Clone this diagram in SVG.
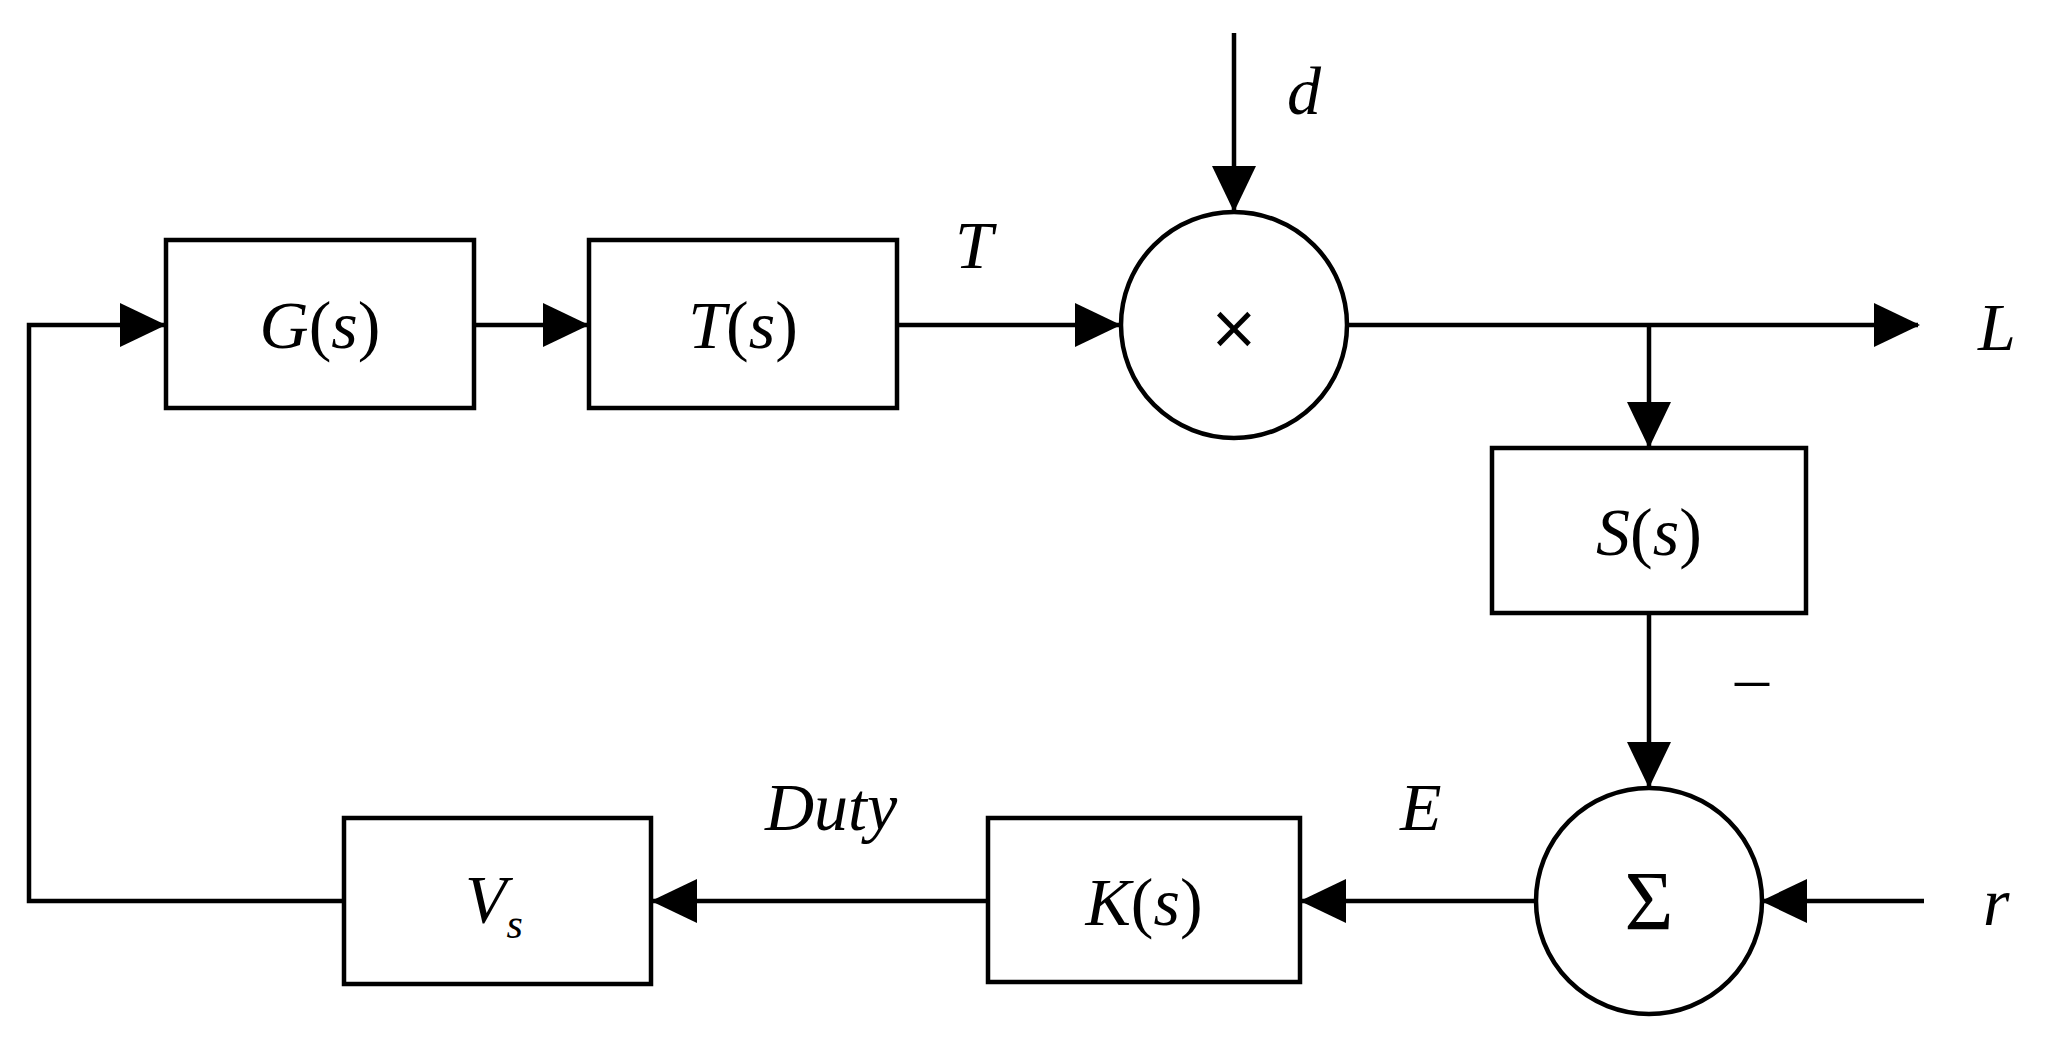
<svg xmlns="http://www.w3.org/2000/svg" width="2052" height="1042" viewBox="0 0 2052 1042">
<style>
.b{fill:#fff;stroke:#000;stroke-width:4.5}
.l{fill:none;stroke:#000;stroke-width:4.5}
text{font-family:"Liberation Serif",serif;font-style:italic;font-size:68px;fill:#000}
.c{text-anchor:middle}
.u{font-style:normal}
</style>
<defs>
<marker id="a" markerUnits="userSpaceOnUse" markerWidth="46" markerHeight="46" viewBox="0 0 46 46" refX="44" refY="23" orient="auto">
<path d="M0,1 L46,23 L0,45 Z" fill="#000"/>
</marker>
</defs>
<rect width="2052" height="1042" fill="#fff"/>
<g id="connectors">
<path class="l" d="M1234,33 V210" marker-end="url(#a)"/>
<path class="l" d="M474,325 H587" marker-end="url(#a)"/>
<path class="l" d="M897,325 H1119" marker-end="url(#a)"/>
<path class="l" d="M1347,325 H1918" marker-end="url(#a)"/>
<path class="l" d="M1649,325 V446" marker-end="url(#a)"/>
<path class="l" d="M1649,613 V786" marker-end="url(#a)"/>
<path class="l" d="M1924,901 H1763" marker-end="url(#a)"/>
<path class="l" d="M1536,901 H1302" marker-end="url(#a)"/>
<path class="l" d="M988,901 H653" marker-end="url(#a)"/>
<path class="l" d="M344,901 H29 V325 H164" marker-end="url(#a)"/>
</g>
<g id="G"><rect class="b" x="166" y="240" width="308" height="168"/><text class="c" x="320" y="348">G<tspan class="u">(</tspan>s<tspan class="u">)</tspan></text></g>
<g id="T"><rect class="b" x="589" y="240" width="308" height="168"/><text class="c" x="743" y="348">T<tspan class="u">(</tspan>s<tspan class="u">)</tspan></text></g>
<g id="mul"><circle class="b" cx="1234" cy="325" r="113"/><text class="c" x="1234" y="348" style="font-style:normal;font-family:'DejaVu Sans',sans-serif;font-size:60px">×</text></g>
<g id="S"><rect class="b" x="1492" y="448" width="314" height="165"/><text class="c" x="1649" y="555">S<tspan class="u">(</tspan>s<tspan class="u">)</tspan></text></g>
<g id="sum"><circle class="b" cx="1649" cy="901" r="113"/><text class="c" x="1649" y="930" style="font-style:normal;font-size:84px">Σ</text></g>
<g id="K"><rect class="b" x="988" y="818" width="312" height="164"/><text class="c" x="1144" y="925">K<tspan class="u">(</tspan>s<tspan class="u">)</tspan></text></g>
<g id="Vs"><rect class="b" x="344" y="818" width="307" height="166"/><text x="465" y="922">V<tspan font-size="42" dy="16">s</tspan></text></g>
<g id="labels">
<text x="1287" y="114">d</text>
<text x="955" y="268">T</text>
<text x="1978" y="350">L</text>
<text x="1983" y="925">r</text>
<text x="1400" y="830">E</text>
<text x="765" y="830">Duty</text>
<text x="1735" y="700" class="u">–</text>
</g>
</svg>
